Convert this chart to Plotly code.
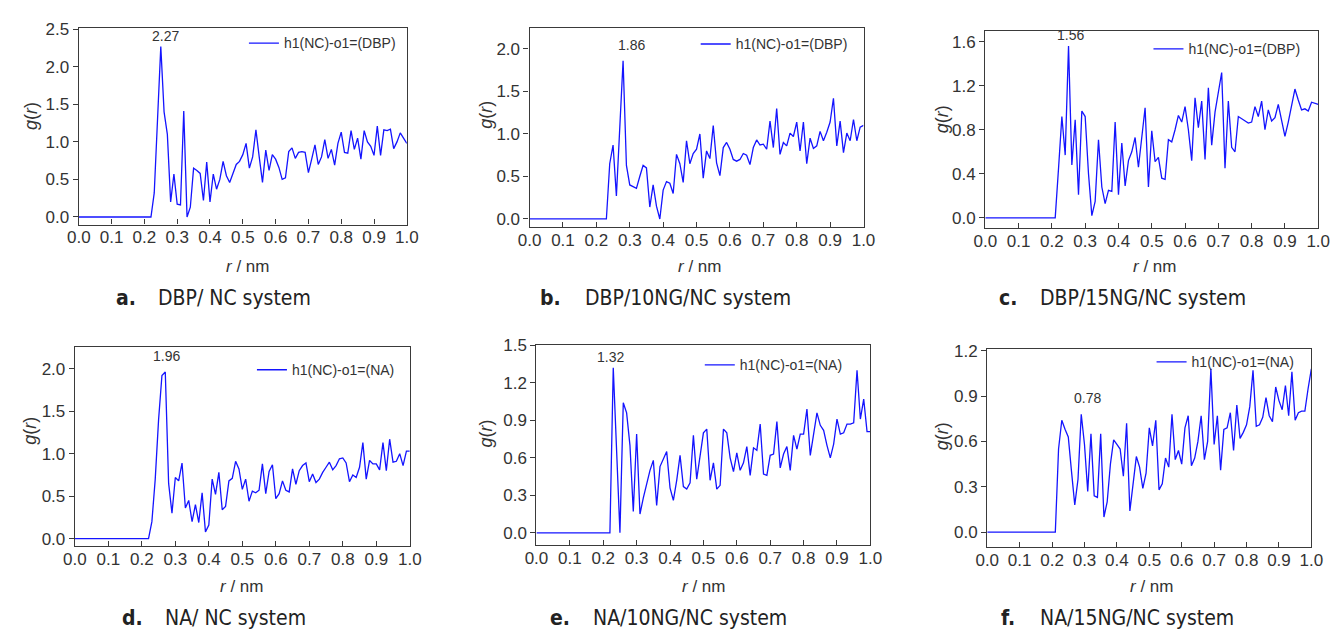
import plotly.graph_objects as go

# ---------------- data ----------------
r = [round(0.01 * i, 2) for i in range(101)]

g_a = [0.0] * 23 + [0.32, 1.30, 2.27, 1.40, 1.10, 0.20, 0.57, 0.17, 0.16, 1.41, 0.00, 0.13, 0.65, 0.62, 0.58, 0.22,
                    0.73, 0.20, 0.57, 0.37, 0.50, 0.74, 0.55, 0.46, 0.58, 0.70, 0.74, 0.83, 0.98, 0.65, 0.80, 1.16,
                    0.80, 0.46, 0.89, 0.62, 0.83, 0.77, 0.66, 0.50, 0.52, 0.87, 0.92, 0.78, 0.86, 0.87, 0.86, 0.59,
                    0.77, 0.96, 0.70, 0.80, 1.03, 0.78, 0.90, 0.69, 0.98, 1.13, 0.86, 0.85, 1.15, 0.90, 1.05, 0.77,
                    1.15, 1.00, 0.94, 0.82, 1.21, 0.82, 1.16, 1.15, 1.17, 0.91, 1.00, 1.12, 1.05, 0.98]

g_b = [0.0] * 24 + [0.65, 0.87, 0.27, 1.05, 1.86, 0.63, 0.40, 0.38, 0.36, 0.50, 0.63, 0.60, 0.14, 0.40, 0.15, 0.00,
                    0.34, 0.44, 0.42, 0.30, 0.76, 0.65, 0.43, 0.92, 0.65, 0.77, 0.82, 1.00, 0.48, 0.80, 0.71, 1.10,
                    0.66, 0.51, 0.84, 0.90, 0.82, 0.70, 0.68, 0.70, 0.77, 0.75, 0.64, 0.84, 0.93, 0.87, 0.88, 0.82,
                    1.15, 0.84, 1.30, 0.76, 0.90, 0.86, 1.01, 0.97, 1.14, 0.80, 1.14, 0.65, 0.95, 0.83, 0.86, 1.03,
                    0.92, 1.02, 1.14, 1.42, 0.86, 1.15, 0.78, 1.01, 0.92, 1.17, 0.92, 1.08, 1.10]

g_c = [0.0] * 22 + [0.45, 0.92, 0.57, 1.56, 0.48, 0.89, 0.21, 0.97, 0.92, 0.40, 0.02, 0.15, 0.71, 0.28, 0.13, 0.25,
                    0.24, 0.87, 0.21, 0.68, 0.29, 0.52, 0.60, 0.73, 0.46, 0.72, 1.00, 0.28, 0.79, 0.51, 0.55, 0.36,
                    0.35, 0.71, 0.69, 0.80, 0.93, 0.87, 1.01, 0.80, 0.52, 1.09, 0.82, 1.06, 0.53, 1.18, 0.66, 0.96,
                    1.15, 1.32, 0.45, 1.06, 0.64, 0.60, 0.92, 0.90, 0.88, 0.86, 0.87, 1.01, 0.92, 1.06, 0.80, 0.98,
                    0.88, 0.91, 1.03, 0.87, 0.74, 0.87, 1.03, 1.17, 1.07, 0.98, 0.99, 0.97, 1.05, 1.04, 1.03]

g_d = [0.0] * 23 + [0.20, 0.70, 1.40, 1.92, 1.96, 0.65, 0.30, 0.72, 0.68, 0.89, 0.36, 0.45, 0.20, 0.40, 0.19, 0.54,
                    0.08, 0.16, 0.70, 0.52, 0.78, 0.34, 0.38, 0.68, 0.71, 0.91, 0.82, 0.58, 0.70, 0.44, 0.56, 0.54,
                    0.57, 0.88, 0.53, 0.79, 0.87, 0.47, 0.53, 0.68, 0.57, 0.55, 0.82, 0.64, 0.80, 0.86, 0.89, 0.67,
                    0.76, 0.66, 0.70, 0.78, 0.84, 0.90, 0.81, 0.86, 0.94, 0.95, 0.89, 0.67, 0.75, 0.72, 0.84, 1.13,
                    0.70, 0.92, 0.88, 0.88, 0.81, 1.13, 0.80, 1.17, 0.90, 0.91, 1.00, 0.86, 1.03, 1.03]

g_e = [0.0] * 23 + [1.32, 0.65, 0.00, 1.04, 0.96, 0.70, 0.17, 0.79, 0.15, 0.28, 0.40, 0.50, 0.58, 0.22, 0.53, 0.59,
                    0.65, 0.36, 0.26, 0.42, 0.62, 0.37, 0.35, 0.40, 0.78, 0.43, 0.62, 0.80, 0.83, 0.42, 0.56, 0.35,
                    0.38, 0.83, 0.80, 0.60, 0.49, 0.64, 0.50, 0.56, 0.69, 0.46, 0.68, 0.66, 0.87, 0.47, 0.46, 0.62,
                    0.63, 0.89, 0.52, 0.63, 0.69, 0.50, 0.78, 0.67, 0.79, 0.79, 0.99, 0.62, 0.79, 0.96, 0.86, 0.82,
                    0.70, 0.60, 0.71, 0.91, 0.79, 0.80, 0.87, 0.87, 0.88, 1.30, 0.91, 1.07, 0.81, 0.81]

g_f = [0.0] * 22 + [0.55, 0.74, 0.68, 0.63, 0.40, 0.18, 0.35, 0.78, 0.58, 0.27, 0.65, 0.24, 0.23, 0.65, 0.10, 0.20,
                    0.45, 0.61, 0.58, 0.55, 0.37, 0.72, 0.14, 0.32, 0.50, 0.43, 0.29, 0.39, 0.69, 0.57, 0.74, 0.28,
                    0.32, 0.49, 0.43, 0.78, 0.48, 0.54, 0.45, 0.69, 0.77, 0.44, 0.49, 0.60, 0.77, 0.48, 0.60, 1.08,
                    0.58, 0.77, 0.41, 0.68, 0.69, 0.79, 0.54, 0.84, 0.62, 0.66, 0.71, 0.83, 1.07, 0.70, 0.71, 0.76,
                    0.89, 0.77, 0.73, 0.96, 0.87, 0.81, 0.97, 0.77, 1.06, 0.74, 0.79, 0.80, 0.80, 0.95, 1.08]

series_names = ["h1(NC)-o1=(DBP)", "h1(NC)-o1=(DBP)", "h1(NC)-o1=(DBP)",
                "h1(NC)-o1=(NA)", "h1(NC)-o1=(NA)", "h1(NC)-o1=(NA)"]
peak_r = [0.25, 0.28, 0.25, 0.27, 0.23, 0.29]
peak_g = [2.27, 1.86, 1.56, 1.96, 1.32, 0.78]
peak_labels = ["2.27", "1.86", "1.56", "1.96", "1.32", "0.78"]
caption_letters = ["a.", "b.", "c.", "d.", "e.", "f."]
caption_texts = ["DBP/ NC system", "DBP/10NG/NC system", "DBP/15NG/NC system",
                 "NA/ NC system", "NA/10NG/NC system", "NA/15NG/NC system"]
x_ticks = [0.0, 0.1, 0.2, 0.3, 0.4, 0.5, 0.6, 0.7, 0.8, 0.9, 1.0]
y_ticks = [[0.0, 0.5, 1.0, 1.5, 2.0, 2.5],
           [0.0, 0.5, 1.0, 1.5, 2.0],
           [0.0, 0.4, 0.8, 1.2, 1.6],
           [0.0, 0.5, 1.0, 1.5, 2.0],
           [0.0, 0.3, 0.6, 0.9, 1.2, 1.5],
           [0.0, 0.3, 0.6, 0.9, 1.2]]
all_g = [g_a, g_b, g_c, g_d, g_e, g_f]

# ---------------- layout geometry (pixels) ----------------
W, H = 1343, 630
def fx(x): return x / W
def fy(y): return 1 - y / H

# (left, top, right, bottom) of plot boxes
boxes = [(68, 20, 402, 220), (527, 20, 867, 223), (991, 23, 1330, 224),
         (64, 344, 405, 547), (534, 342, 874, 546), (993, 347, 1323, 548)]
y_ranges = [(-0.10, 2.52), (-0.10, 2.25), (-0.096, 1.70),
            (-0.09, 2.26), (-0.10, 1.506), (-0.10, 1.208)]
legend_pos = [(396, 36), (856, 37), (1317, 42), (395, 368), (851, 363), (1311, 360)]
peak_shift = [(5, 0), (8, 6), (2, 1), (1, 6), (-3, 1), (6, 6)]
ytitle_pos = [(20, 110), (483, 108), (947, 113), (18, 430), (483, 432), (947, 435)]
xtitle_pos = [(240, 263), (700, 263), (1163, 263), (234, 588), (704, 588), (1160, 588)]
# caption: (letter left x, text left x, centre y)
caption_pos = [(104, 147, 295), (536, 581, 295), (1003, 1045, 295),
               (110, 154, 620), (546, 590, 620), (1005, 1045, 620)]

LINE = "#1414ff"
TXT = "#333333"
AX = "#3a3a3a"
FONT = "Liberation Sans, Arial, sans-serif"
CAPFONT = "DejaVu Sans Condensed, DejaVu Sans, sans-serif"

fig = go.Figure()
layout = dict(width=W, height=H, margin=dict(l=0, r=0, t=0, b=0),
              paper_bgcolor="white", plot_bgcolor="white", showlegend=True,
              font=dict(family=FONT, color=TXT))
annotations = []

for i in range(6):
    sfx = "" if i == 0 else str(i + 1)
    g = all_g[i]
    L, T, R, B = boxes[i]
    leg = "legend" if i == 0 else "legend%d" % (i + 1)
    fig.add_trace(go.Scatter(x=r[:len(g)], y=g, mode="lines", name=series_names[i],
                             line=dict(color=LINE, width=1.3),
                             xaxis="x" + sfx, yaxis="y" + sfx, legend=leg,
                             hoverinfo="x+y"))
    layout["xaxis" + sfx] = dict(domain=[fx(L), fx(R)], anchor="y" + sfx, range=[0, 1.0],
                                 tickvals=x_ticks, tickformat=".1f", ticks="inside", ticklen=5,
                                 tickcolor=AX, showline=True, linecolor=AX, linewidth=1.3, mirror=True,
                                 showgrid=False, zeroline=False,
                                 tickfont=dict(size=17, color=TXT), ticklabelstandoff=-3)
    layout["yaxis" + sfx] = dict(domain=[fy(B), fy(T)], anchor="x" + sfx, range=list(y_ranges[i]),
                                 tickvals=y_ticks[i], tickformat=".1f", ticks="outside", ticklen=5,
                                 tickcolor=AX, showline=True, linecolor=AX, linewidth=1.3, mirror=True,
                                 showgrid=False, zeroline=False,
                                 tickfont=dict(size=17, color=TXT))
    lx, ly = legend_pos[i]
    layout[leg] = dict(x=fx(lx), y=fy(ly), xanchor="right", yanchor="middle",
                       bgcolor="rgba(0,0,0,0)", borderwidth=0,
                       font=dict(size=14, color=TXT, family=FONT), itemwidth=30,
                       tracegroupgap=0)
    # peak label
    dx, dy = peak_shift[i]
    annotations.append(dict(x=peak_r[i], y=peak_g[i], xref="x" + sfx, yref="y" + sfx,
                            text=peak_labels[i], showarrow=False, yanchor="bottom",
                            xshift=dx, yshift=dy, font=dict(size=14, color=TXT)))
    # y title
    tx, ty = ytitle_pos[i]
    annotations.append(dict(x=fx(tx), y=fy(ty), xref="paper", yref="paper",
                            text="<i>g</i>(<i>r</i>)", showarrow=False, textangle=-90,
                            xanchor="center", yanchor="middle", font=dict(size=18, color=TXT)))
    # x title
    tx, ty = xtitle_pos[i]
    annotations.append(dict(x=fx(tx), y=fy(ty), xref="paper", yref="paper",
                            text="<i>r</i> / nm", showarrow=False,
                            xanchor="center", yanchor="middle", font=dict(size=17, color=TXT)))
    # caption
    lxp, txp, cy = caption_pos[i]
    annotations.append(dict(x=fx(lxp), y=fy(cy), xref="paper", yref="paper",
                            text="<b>" + caption_letters[i] + "</b>", showarrow=False,
                            xanchor="left", yanchor="middle",
                            font=dict(size=21, color="#222222", family=CAPFONT)))
    annotations.append(dict(x=fx(txp), y=fy(cy), xref="paper", yref="paper",
                            text=caption_texts[i], showarrow=False,
                            xanchor="left", yanchor="middle",
                            font=dict(size=21, color="#222222", family=CAPFONT)))

layout["annotations"] = annotations
fig.update_layout(**layout)
fig.write_html("out.html")
